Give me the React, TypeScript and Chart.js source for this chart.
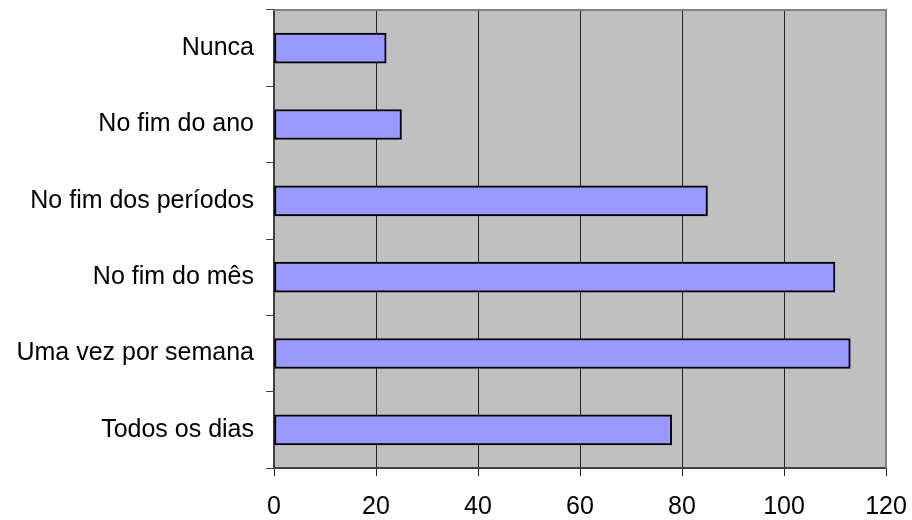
import React, { useEffect, useRef } from "react";
import { Chart, registerables } from "chart.js";

Chart.register(...registerables);

const categories = [
  "Nunca",
  "No fim do ano",
  "No fim dos períodos",
  "No fim do mês",
  "Uma vez por semana",
  "Todos os dias",
];
const values = [22, 25, 85, 110, 113, 78];
const xMin = 0;
const xMax = 120;
const xStep = 20;

const plotBg = {
  id: "plotBg",
  beforeDraw(chart: any) {
    const { ctx, chartArea: a } = chart;
    ctx.save();
    ctx.fillStyle = "#C0C0C0";
    ctx.fillRect(a.left, a.top, a.right - a.left, a.bottom - a.top);
    ctx.restore();
  },
  afterDraw(chart: any) {
    const { ctx, chartArea: a } = chart;
    ctx.save();
    ctx.strokeStyle = "#808080";
    ctx.lineWidth = 2;
    ctx.beginPath();
    ctx.moveTo(a.left, a.top);
    ctx.lineTo(a.right, a.top);
    ctx.lineTo(a.right, a.bottom);
    ctx.stroke();
    ctx.restore();
  },
};

export default function App() {
  const ref = useRef<HTMLCanvasElement>(null);
  useEffect(() => {
    if (!ref.current) return;
    const font = { family: "'Liberation Sans', Arial, sans-serif", size: 25 };
    const chart = new Chart(ref.current, {
      type: "bar",
      data: {
        labels: categories,
        datasets: [
          {
            data: values,
            backgroundColor: "#9999FF",
            borderColor: "#000000",
            borderWidth: 2,
            borderSkipped: false,
            barThickness: 30,
          },
        ],
      },
      plugins: [plotBg],
      options: {
        indexAxis: "y",
        responsive: false,
        animation: false,
        layout: { padding: { top: 10, right: 26, left: 0, bottom: 0 } },
        plugins: { legend: { display: false }, tooltip: { enabled: false } },
        scales: {
          x: {
            min: xMin,
            max: xMax,
            ticks: { stepSize: xStep, color: "#000", font, padding: 16 },
            grid: { color: "#222", lineWidth: 1, tickLength: 8, drawTicks: true },
            border: { color: "#404040", width: 2 },
            afterFit(scale: any) {
              scale.height = 52;
              scale.paddingLeft = 0;
              scale.paddingRight = 0;
            },
          },
          y: {
            ticks: { color: "#000", font, padding: 12 },
            grid: {
              drawOnChartArea: false,
              drawTicks: true,
              tickLength: 8,
              color: "#404040",
              offset: true,
            },
            border: { color: "#404040", width: 2 },
            afterFit(scale: any) {
              scale.width = 274;
              scale.paddingTop = 0;
              scale.paddingBottom = 0;
            },
          },
        },
      },
    } as any);
    return () => chart.destroy();
  }, []);
  return (
    <div style={{ position: "fixed", left: 0, top: 0, width: 912, height: 520, background: "#fff" }}>
      <canvas ref={ref} width={912} height={520} />
    </div>
  );
}
